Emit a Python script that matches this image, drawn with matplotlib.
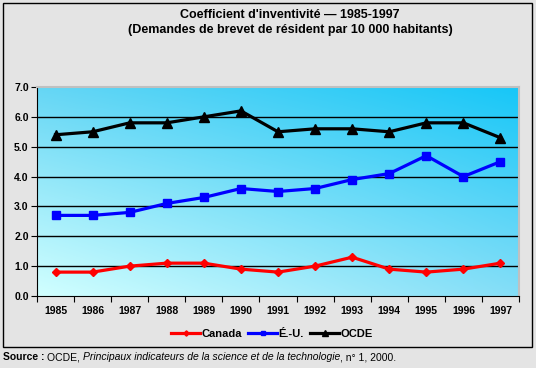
import numpy as np
import matplotlib
matplotlib.use("Agg")
import matplotlib.pyplot as plt
from matplotlib.patches import Rectangle

plt.rcParams["font.family"] = ["Liberation Sans", "DejaVu Sans"]

# ── Data ────────────────────────────────────────────────────────────────────
years = ["1985", "1986", "1987", "1988", "1989", "1990", "1991",
         "1992", "1993", "1994", "1995", "1996", "1997"]
canada = [0.8, 0.8, 1.0, 1.1, 1.1, 0.9, 0.8, 1.0, 1.3, 0.9, 0.8, 0.9, 1.1]
eu     = [2.7, 2.7, 2.8, 3.1, 3.3, 3.6, 3.5, 3.6, 3.9, 4.1, 4.7, 4.0, 4.5]
ocde   = [5.4, 5.5, 5.8, 5.8, 6.0, 6.2, 5.5, 5.6, 5.6, 5.5, 5.8, 5.8, 5.3]
y_ticks = [0.0, 1.0, 2.0, 3.0, 4.0, 5.0, 6.0, 7.0]

# ── Figure ──────────────────────────────────────────────────────────────────
fig = plt.figure(figsize=(5.36, 3.68), dpi=100)
fig.patch.set_facecolor("#e4e4e4")

# outer frame
fig.patches.append(Rectangle((3 / 536, 1 - 347 / 368), 529 / 536, 344 / 368,
                             transform=fig.transFigure, fill=False,
                             edgecolor="black", linewidth=1.0))

ax = fig.add_axes([37 / 536, 1 - 296 / 368, 482 / 536, 209 / 368])
x = np.arange(len(years))
ax.set_xlim(-0.5, len(years) - 0.5)
ax.set_ylim(0, 7)

# bilinear corner-colour gradient (plot area background)
tl = np.array([0.40, 0.84, 0.96])
tr = np.array([0.09, 0.78, 0.97])
bl = np.array([0.82, 1.00, 1.00])
br = np.array([0.52, 0.87, 0.97])
u = np.linspace(0, 1, 200)[None, :, None]
v = np.linspace(0, 1, 150)[:, None, None]
img = (1 - v) * ((1 - u) * bl + u * br) + v * ((1 - u) * tl + u * tr)
ax.imshow(img, extent=[-0.5, len(years) - 0.5, 0, 7], origin="lower",
          aspect="auto", zorder=0)

for yv in y_ticks[1:-1]:
    ax.axhline(yv, color="black", linewidth=1.0, zorder=1)

ax.plot(x, canada, color="#ff0000", linewidth=2.3, marker="D", markersize=4.5,
        label="Canada", zorder=3)
ax.plot(x, eu, color="#0000ff", linewidth=2.3, marker="s", markersize=6,
        label="É.-U.", zorder=3)
ax.plot(x, ocde, color="black", linewidth=2.3, marker="^", markersize=6.5,
        label="OCDE", zorder=3)

ax.set_yticks(y_ticks)
ax.set_yticklabels([f"{v:.1f}" for v in y_ticks], fontsize=7.5, fontweight="bold")
ax.set_xticks(x)
ax.set_xticklabels(years, fontsize=7.5, fontweight="bold")
ax.set_xticks(np.arange(-0.5, len(years), 1), minor=True)
ax.tick_params(axis="x", which="major", length=0, pad=7)
ax.tick_params(axis="x", which="minor", length=4, direction="out", width=0.8)
ax.tick_params(axis="y", length=4, direction="out", width=0.8, pad=2)

for side in ["top", "right"]:
    ax.spines[side].set_color("#c0c0c0")
    ax.spines[side].set_linewidth(1.5)
ax.spines["left"].set_linewidth(0.8)
ax.spines["bottom"].set_linewidth(0.8)

fig.legend(loc="center", bbox_to_anchor=(272 / 536, 1 - 334 / 368), ncol=3,
           frameon=False, prop={"size": 8, "weight": "bold"}, markerscale=0.6,
           handlelength=2.6, handletextpad=0.1, columnspacing=0.6)

fig.text(290 / 536, 1 - 15 / 368, "Coefficient d'inventivité — 1985-1997",
         ha="center", va="center", fontsize=9, fontweight="bold")
fig.text(290 / 536, 1 - 30 / 368,
         "(Demandes de brevet de résident par 10 000 habitants)",
         ha="center", va="center", fontsize=9, fontweight="bold")

src = fig.text(3 / 536, 1 - 357 / 368, "Source : ", ha="left", va="center",
               fontsize=7.5, fontweight="bold")
fig.canvas.draw()
x0 = src.get_window_extent().x1 / fig.bbox.width
t2 = fig.text(x0, 1 - 357 / 368, "OCDE, ", ha="left", va="center", fontsize=7.5)
fig.canvas.draw()
x0 = t2.get_window_extent().x1 / fig.bbox.width
t3 = fig.text(x0, 1 - 357 / 368,
              "Principaux indicateurs de la science et de la technologie",
              ha="left", va="center", fontsize=7.5, style="italic")
fig.canvas.draw()
x0 = t3.get_window_extent().x1 / fig.bbox.width
fig.text(x0, 1 - 357 / 368, ", n° 1, 2000.", ha="left", va="center", fontsize=7.5)

fig.savefig("out.png", dpi=100, facecolor=fig.get_facecolor())
